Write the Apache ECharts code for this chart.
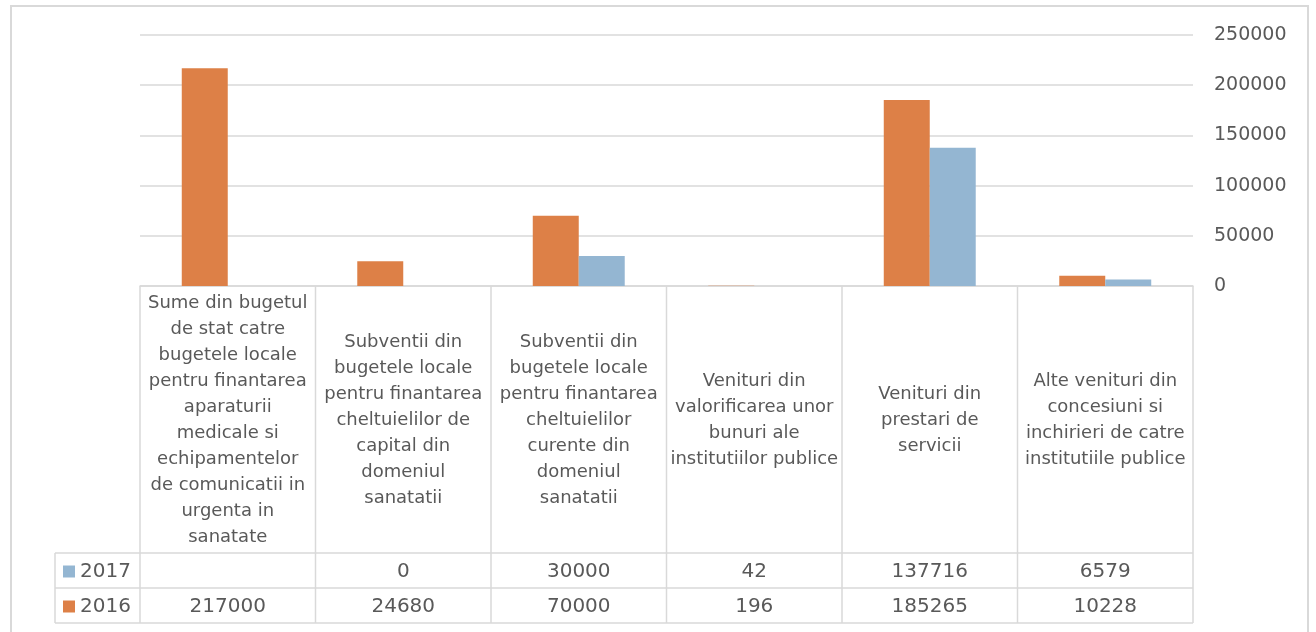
<!DOCTYPE html>
<html>
<head>
<meta charset="utf-8">
<script src="https://cdn.jsdelivr.net/npm/echarts@6/dist/echarts.min.js"></script>
<style>
  html, body { margin: 0; padding: 0; background: #fff; }
  #main { width: 1316px; height: 632px; }
</style>
</head>
<body>
<div id="main"></div>
<script>
// categorii (cu ruperile de rand din tabelul original)
const categories = [
  "Sume din bugetul\nde stat catre\nbugetele locale\npentru finantarea\naparaturii\nmedicale si\nechipamentelor\nde comunicatii in\nurgenta in\nsanatate",
  "Subventii din\nbugetele locale\npentru finantarea\ncheltuielilor de\ncapital din\ndomeniul\nsanatatii",
  "Subventii din\nbugetele locale\npentru finantarea\ncheltuielilor\ncurente din\ndomeniul\nsanatatii",
  "Venituri din\nvalorificarea unor\nbunuri ale\ninstitutiilor publice",
  "Venituri din\nprestari de\nservicii",
  "Alte venituri din\nconcesiuni si\ninchirieri de catre\ninstitutiile publice",
];
const values2016 = [217000, 24680, 70000, 196, 185265, 10228];
const values2017 = [null, 0, 30000, 42, 137716, 6579];
const yMax = 250000, yStep = 50000;

const FONT = "DejaVu Sans";
const TXT = "#595959", LINE = "#d9d9d9";
const ORANGE = "#DD8047", BLUE = "#94B6D2";

const chart = echarts.init(document.getElementById("main"));
chart.setOption({
  animation: false,
  textStyle: { fontFamily: FONT },
  grid: { left: 140, right: 123, top: 35, bottom: 346 },
  xAxis: {
    type: "category",
    data: categories,
    axisLine: { lineStyle: { color: LINE, width: 1.5 } },
    axisTick: { show: false },
    axisLabel: {
      interval: 0, margin: 134, verticalAlign: "middle", align: "center",
      color: TXT, fontSize: 18, lineHeight: 26, fontFamily: FONT,
    },
  },
  yAxis: {
    type: "value", position: "right", min: 0, max: yMax, interval: yStep,
    axisLine: { show: false }, axisTick: { show: false },
    splitLine: { lineStyle: { color: LINE, width: 1.5 } },
    axisLabel: { margin: 21, color: TXT, fontSize: 19, fontFamily: FONT, formatter: v => String(v) },
  },
  series: [
    { name: "2016", type: "bar", data: values2016, barGap: "0%", barCategoryGap: "47.6%",
      itemStyle: { color: ORANGE } },
    { name: "2017", type: "bar", data: values2017,
      itemStyle: { color: BLUE } },
  ],
});

// tabelul de date sub axa
const x0 = chart.convertToPixel({ xAxisIndex: 0 }, 0);
const band = chart.convertToPixel({ xAxisIndex: 0 }, 1) - x0;
const left = x0 - band / 2;
const right = left + band * categories.length;
const axisY = chart.convertToPixel({ yAxisIndex: 0 }, 0);
const catBottom = axisY + 267, rowH = 35, keyLeft = 55;
const rows = [
  { name: "2017", color: BLUE, values: values2017 },
  { name: "2016", color: ORANGE, values: values2016 },
];
const tableBottom = catBottom + rowH * rows.length;

const g = [];
const line = (x1, y1, x2, y2) => g.push({
  type: "line", silent: true,
  shape: { x1, y1, x2, y2 }, style: { stroke: LINE, lineWidth: 1.5 },
});
for (let i = 0; i <= categories.length; i++) {
  const x = left + band * i;
  line(x, axisY, x, tableBottom);
}
line(keyLeft, catBottom, keyLeft, tableBottom);
for (let r = 0; r <= rows.length; r++) {
  line(keyLeft, catBottom + rowH * r, right, catBottom + rowH * r);
}
rows.forEach((row, r) => {
  const cy = catBottom + rowH * r + rowH / 2;
  g.push({ type: "rect", silent: true, shape: { x: keyLeft + 8, y: cy - 5, width: 12, height: 12 },
    style: { fill: row.color } });
  g.push({ type: "text", silent: true, x: keyLeft + 25, y: cy + 1,
    style: { text: row.name, fill: TXT, font: `20px ${FONT}`, verticalAlign: "middle", align: "left" } });
  row.values.forEach((v, i) => {
    if (v == null) return;
    g.push({ type: "text", silent: true, x: left + band * i + band / 2, y: cy + 1,
      style: { text: String(v), fill: TXT, font: `20px ${FONT}`, verticalAlign: "middle", align: "center" } });
  });
});
// chenarul graficului
g.push({ type: "rect", silent: true, shape: { x: 11, y: 6, width: 1297, height: 700 },
  style: { fill: null, stroke: LINE, lineWidth: 2 } });

chart.setOption({ graphic: g });
</script>
</body>
</html>
